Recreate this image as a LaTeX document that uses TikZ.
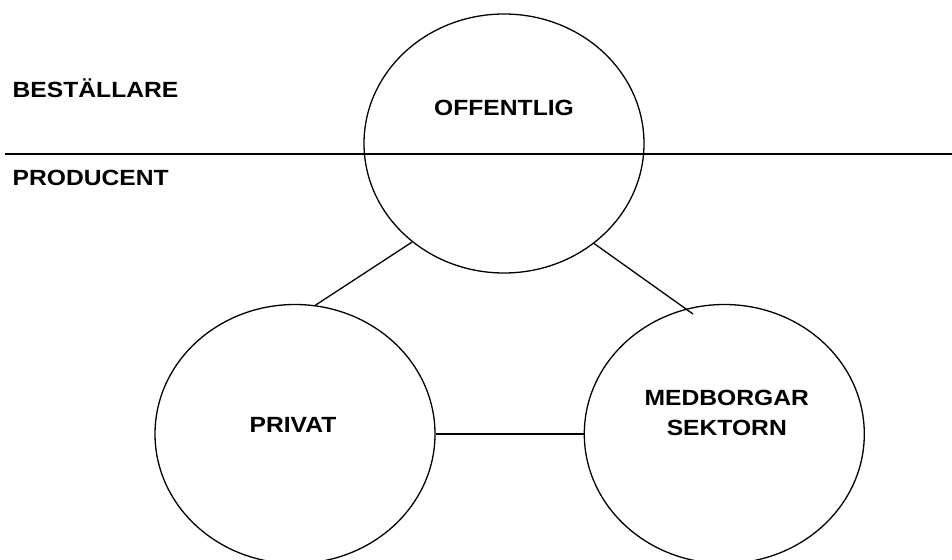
\documentclass[tikz,border=0pt]{standalone}
\usepackage{fontspec}
\setmainfont{Liberation Sans}[FakeStretch=1.12]
\usepackage{tikz}
\usetikzlibrary{shapes.geometric, positioning}

\tikzset{
  sector/.style={draw, ellipse, line width=1.3pt, minimum width=280pt, minimum height=259pt, inner sep=0pt},
  lbl/.style={inner sep=0pt, font=\fontsize{22}{30.5}\selectfont\bfseries, align=center},
  link/.style={line width=1.3pt}
}

\begin{document}
\begin{tikzpicture}[x=1pt,y=-1pt]
		\useasboundingbox (0,0) rectangle (952,559);
		\clip (0,0) rectangle (952,559);

		% divider between the two roles
		\coordinate (divl) at (5,154);
		\coordinate (divr) at (952,154);
		\draw [line width=2pt] (divl) -- (divr);
		\node[lbl, anchor=base west] (best) at (12.5,97.3) {BEST\"ALLARE};
		\node[lbl, anchor=base west] (prod) at (12.5,185) {PRODUCENT};

		\node (off) [sector] at (504,143.5) {};
		\node[lbl, anchor=base] (offtxt) at ([yshift=27.5pt]off.center) {OFFENTLIG};

		\node (priv) [sector] at (295,434) {};
		\node[lbl, anchor=base] (privtxt) at ([xshift=-2pt,yshift=1.7pt]priv.center) {PRIVAT};

    \node[right=148pt of priv] (med) [sector] {};
		\node[lbl, anchor=base] (medtxt) at ([xshift=2.5pt,yshift=-1.5pt]med.center) {MEDBORGAR\\SEKTORN};
		\coordinate (medtip) at (693,314);

		\draw [link] (off.227.6) -- (priv.81.7);
		\draw [link] (off.312.4) -- (medtip);
		\draw [link] (priv.east) -- (med.west);
	\end{tikzpicture}
\end{document}
